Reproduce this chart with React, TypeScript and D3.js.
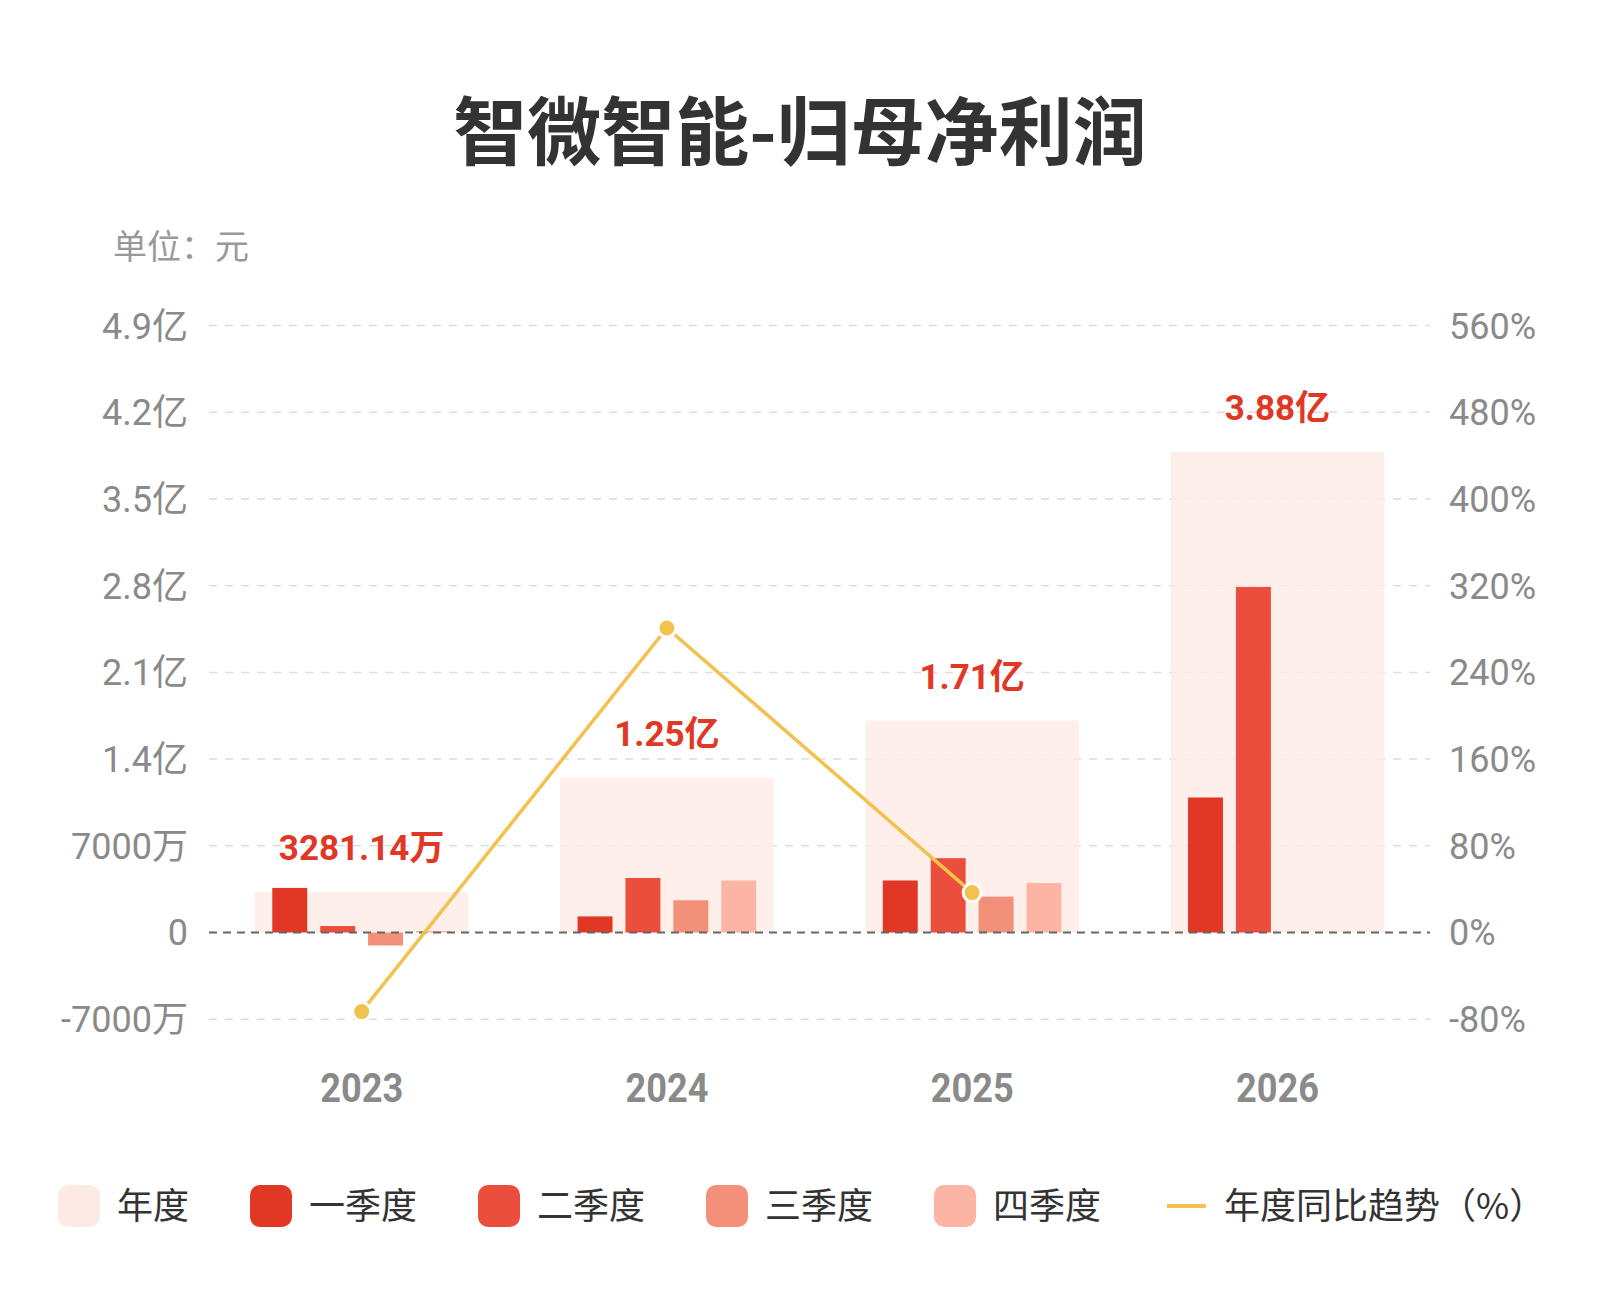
import React from "react";
import * as d3 from "d3";

const years = ["2023", "2024", "2025", "2026"];
const quarters = ["一季度", "二季度", "三季度", "四季度"];
// 归母净利润（元）
const annualProfit = [32811400, 125000000, 171000000, 388000000];
const annualLabels = ["3281.14万", "1.25亿", "1.71亿", "3.88亿"];
const q1Profit = [36000000, 13000000, 42000000, 109000000];
const q2Profit = [5200000, 44000000, 60000000, 279000000];
const q3Profit = [-10500000, 26000000, 29000000, null];
const q4Profit = [1200000, 42000000, 40000000, null];
// 年度同比（%）
const yoyYears = ["2023", "2024", "2025"];
const yoyValues = [-73, 281, 36.8];

const leftTicks = [-70000000, 0, 70000000, 140000000, 210000000, 280000000, 350000000, 420000000, 490000000];
const leftTickLabels = ["-7000万", "0", "7000万", "1.4亿", "2.1亿", "2.8亿", "3.5亿", "4.2亿", "4.9亿"];
const rightTicks = [-80, 0, 80, 160, 240, 320, 400, 480, 560];

const quarterColors = ["#E03824", "#EC4E3E", "#F3907A", "#FCB4A4"];
const annualColor = "#FDEAE4";
const lineColor = "#F2C24E";
const numFont = "Roboto, 'Noto Sans CJK SC', sans-serif";
const cjkFont = "'Noto Sans CJK SC', sans-serif";

const W = 1600;
const H = 1300;
const left = 209;
const right = 1430;

export default function App() {
  const x = d3.scaleBand<string>().domain(years).range([left, right]).paddingInner(0.3).paddingOuter(0.15);
  const xq = d3
    .scaleBand<string>()
    .domain(quarters)
    .range([17.5, x.bandwidth() - 17.5])
    .paddingInner(0.27);
  const y = d3.scaleLinear().domain([-70000000, 490000000]).range([1019.2, 325.6]);
  const yr = d3.scaleLinear().domain([-80, 560]).range([1019.2, 325.6]);

  const qSeries = [q1Profit, q2Profit, q3Profit, q4Profit];

  const line = d3
    .line<number>()
    .x((_, i) => (x(yoyYears[i]) as number) + x.bandwidth() / 2)
    .y((d) => yr(d));

  // legend layout
  const legendItems = [
    { name: "年度", color: annualColor },
    ...quarters.map((q, i) => ({ name: q, color: quarterColors[i] })),
  ];
  let lx = 58;
  const legendPos = legendItems.map((it) => {
    const p = lx;
    lx += 42 + 17 + it.name.length * 36 + 61;
    return p;
  });
  const lineLegendX = 1167;
  const legendY = 1206;

  return (
    <div style={{ position: "absolute", left: 0, top: 0 }}>
      <svg width={W} height={H} style={{ display: "block", background: "#fff" }}>
        <rect width={W} height={H} fill="#fff" />
        <text x={800} y={159} textAnchor="middle" fontFamily={cjkFont} fontWeight="bold" fontSize={74} fill="#333">
          智微智能-归母净利润
        </text>
        <text x={113} y={259} fontFamily={cjkFont} fontSize={34} fill="#999">
          单位：元
        </text>

        {/* gridlines */}
        {leftTicks.map((t) =>
          t === 0 ? null : (
            <line key={t} x1={left} x2={right} y1={y(t)} y2={y(t)} stroke="#ddd" strokeWidth={1.5} strokeDasharray="8,8" />
          )
        )}

        {/* left axis labels */}
        {leftTicks.map((t, i) => (
          <text key={t} x={188} y={y(t)} dy="0.36em" textAnchor="end" fontFamily={numFont} fontSize={36} fill="#8a8a8a">
            {leftTickLabels[i]}
          </text>
        ))}
        {/* right axis labels */}
        {rightTicks.map((t) => (
          <text key={t} x={1449} y={yr(t)} dy="0.36em" fontFamily={numFont} fontSize={36} fill="#8a8a8a">
            {t}%
          </text>
        ))}

        {/* annual background bars */}
        {years.map((yy, i) => (
          <rect
            key={yy}
            x={x(yy)}
            width={x.bandwidth()}
            y={y(annualProfit[i])}
            height={y(0) - y(annualProfit[i])}
            fill={annualColor}
            opacity={0.75}
          />
        ))}

        {/* quarter bars */}
        {years.map((yy, i) => (
          <g key={yy} transform={`translate(${x(yy)},0)`}>
            {qSeries.map((s, qi) => {
              const v = s[i];
              if (v === null) return null;
              return (
                <rect
                  key={qi}
                  x={xq(quarters[qi])}
                  width={xq.bandwidth()}
                  y={Math.min(y(v), y(0))}
                  height={Math.abs(y(0) - y(v))}
                  fill={quarterColors[qi]}
                />
              );
            })}
          </g>
        ))}

        {/* zero line */}
        <line x1={left} x2={right} y1={y(0)} y2={y(0)} stroke="#666" strokeWidth={2} strokeDasharray="8,6" />

        {/* annual value labels */}
        {years.map((yy, i) => (
          <text
            key={yy}
            x={(x(yy) as number) + x.bandwidth() / 2}
            y={y(annualProfit[i]) - 32}
            textAnchor="middle"
            fontFamily={numFont}
            fontWeight="bold"
            fontSize={35}
            fill="#E03824"
          >
            {annualLabels[i]}
          </text>
        ))}

        {/* yoy line */}
        <path d={line(yoyValues) || ""} fill="none" stroke={lineColor} strokeWidth={3.5} />
        {yoyValues.map((v, i) => (
          <circle
            key={i}
            cx={(x(yoyYears[i]) as number) + x.bandwidth() / 2}
            cy={yr(v)}
            r={9}
            fill={lineColor}
            stroke="#fff"
            strokeWidth={3}
          />
        ))}

        {/* x axis labels */}
        {years.map((yy) => (
          <text
            key={yy}
            x={(x(yy) as number) + x.bandwidth() / 2}
            y={1102}
            textAnchor="middle"
            fontFamily={numFont}
            fontWeight="bold"
            fontSize={40}
            fill="#8a8a8a"
            textLength={83}
            lengthAdjust="spacingAndGlyphs"
          >
            {yy}
          </text>
        ))}

        {/* legend */}
        {legendItems.map((it, i) => (
          <g key={it.name} transform={`translate(${legendPos[i]},${legendY})`}>
            <rect x={0} y={-21} width={42} height={42} rx={10} fill={it.color} />
            <text x={59} y={0} dy="0.35em" fontFamily={cjkFont} fontSize={36} fill="#333">
              {it.name}
            </text>
          </g>
        ))}
        <g transform={`translate(${lineLegendX},${legendY})`}>
          <line x1={0} x2={39} y1={0} y2={0} stroke={lineColor} strokeWidth={4} />
          <text x={57} y={0} dy="0.35em" fontFamily={cjkFont} fontSize={36} fill="#333">
            年度同比趋势（%）
          </text>
        </g>
      </svg>
    </div>
  );
}
